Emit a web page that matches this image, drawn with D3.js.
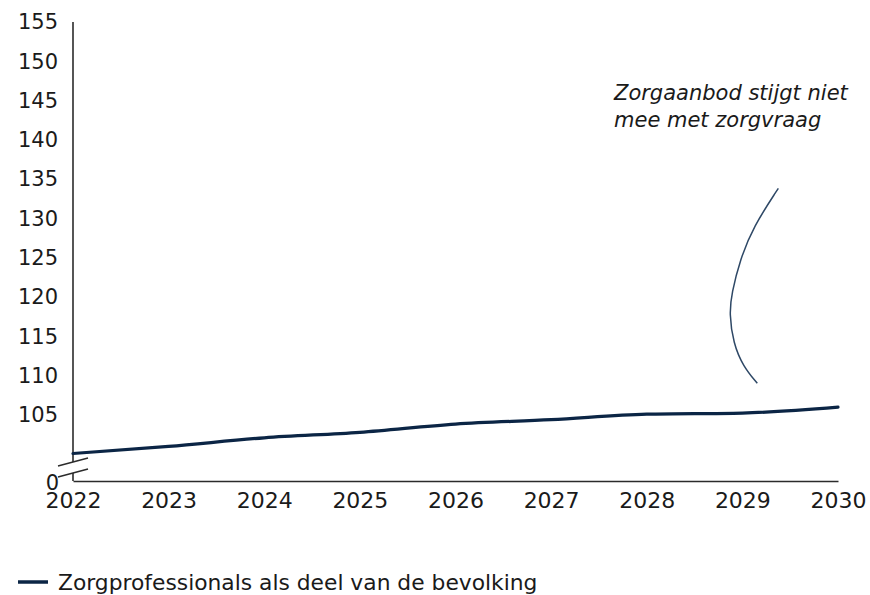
<!DOCTYPE html>
<html>
<head>
<meta charset="utf-8">
<script src="https://cdn.jsdelivr.net/npm/d3@7"></script>
<style>
body { margin: 0; background: #fff; }
svg text { font-family: "DejaVu Sans", Verdana, sans-serif; fill: #1a1a1a; }
</style>
</head>
<body>
<svg class="chart" width="870" height="595"></svg>
<script>
// data
var years = [2022, 2023, 2024, 2025, 2026, 2027, 2028, 2029, 2030];
var values = [100.1, 101.0, 102.1, 102.8, 103.85, 104.4, 105.1, 105.25, 106.0];
var yTicks = [0, 105, 110, 115, 120, 125, 130, 135, 140, 145, 150, 155];
var seriesName = "Zorgprofessionals als deel van de bevolking";
var noteLines = ["Zorgaanbod stijgt niet", "mee met zorgvraag"];
// annotation curve in data units (year, value)
var noteCurveX = [2029.376, 2029.114, 2028.975, 2028.888, 2028.863, 2028.905, 2029.010, 2029.156];
var noteCurveY = [133.84, 128.96, 124.72, 120.48, 117.94, 114.12, 111.15, 109.03];

var meta = {};
meta['left'] = 73;
meta['right'] = 838;
meta['top'] = 22;
meta['bottom'] = 481;

var svg = d3.select(".chart");

const xScale = d3.scaleLinear()
    .domain([2022, 2030])
    .range([meta['left'], meta['right']]);

// broken axis: 0 at the bottom, then 100..155
const yScale = d3.scaleLinear()
    .domain([0, 100, 155])
    .range([meta['bottom'], 454.3, meta['top']]);

var axisColor = "#2b2b2b";

// x axis
var xAxis = svg.append('g')
    .attr('transform', `translate(0,${meta['bottom']})`)
    .call(d3.axisBottom(xScale).tickValues(years).tickFormat(d3.format('d')).tickSize(0).tickPadding(8));
xAxis.select('.domain').attr('stroke', axisColor).attr('stroke-width', 1.6);
xAxis.selectAll('.tick text').attr('font-size', 22).attr('dy', '0.85em').attr('fill', '#1a1a1a');

// y axis
var yAxis = svg.append('g')
    .attr('transform', `translate(${meta['left']},0)`)
    .call(d3.axisLeft(yScale).tickValues(yTicks).tickSize(0).tickPadding(15));
yAxis.select('.domain').remove();
yAxis.selectAll('.tick text').attr('font-size', 21).attr('fill', '#1a1a1a');
yAxis.selectAll('.tick').filter(d => d === 0).select('text').attr('dy', '0.4em').attr('x', -14);

// y axis line with a break
var breakUp = 462, breakLow = 473;
svg.append('line')
    .attr('x1', meta['left']).attr('x2', meta['left'])
    .attr('y1', meta['top']).attr('y2', breakUp)
    .attr('stroke', axisColor).attr('stroke-width', 1.6);
svg.append('line')
    .attr('x1', meta['left']).attr('x2', meta['left'])
    .attr('y1', breakLow).attr('y2', meta['bottom'])
    .attr('stroke', axisColor).attr('stroke-width', 1.6);
[breakUp, breakLow].forEach(function(y) {
    svg.append('line')
        .attr('x1', meta['left'] - 15).attr('y1', y + 4)
        .attr('x2', meta['left'] + 15).attr('y2', y - 4)
        .attr('stroke', axisColor).attr('stroke-width', 1.6);
});

// series line
var data = years.map((y, i) => ({ year: y, value: values[i] }));
svg.append('path')
    .datum(data)
    .attr('d', d3.line()
        .x(d => xScale(d.year))
        .y(d => yScale(d.value))
        .curve(d3.curveMonotoneX))
    .attr('fill', 'none')
    .attr('stroke', '#0b2545')
    .attr('stroke-width', 3.2)
    .attr('stroke-linecap', 'round');

// annotation
svg.append('text')
    .attr('x', 614)
    .attr('y', 100)
    .attr('font-size', 21)
    .attr('font-style', 'italic')
    .selectAll('tspan')
    .data(noteLines)
    .enter()
    .append('tspan')
    .attr('x', 614)
    .attr('dy', (d, i) => i === 0 ? 0 : 27)
    .text(d => d);

var curvePts = noteCurveX.map((x, i) => [x, noteCurveY[i]]);
svg.append('path')
    .attr('d', d3.line()
        .x(d => xScale(d[0]))
        .y(d => yScale(d[1]))
        .curve(d3.curveBasis)(curvePts))
    .attr('fill', 'none')
    .attr('stroke', '#2e4866')
    .attr('stroke-width', 1.5);

// legend
var legend = svg.append('g').attr('transform', 'translate(18,582)');
legend.append('line')
    .attr('x1', 0).attr('x2', 30)
    .attr('y1', 0).attr('y2', 0)
    .attr('stroke', '#0b2545')
    .attr('stroke-width', 3.5);
legend.append('text')
    .attr('x', 40)
    .attr('dy', '0.35em')
    .attr('font-size', 21.8)
    .text(seriesName);
</script>
</body>
</html>
